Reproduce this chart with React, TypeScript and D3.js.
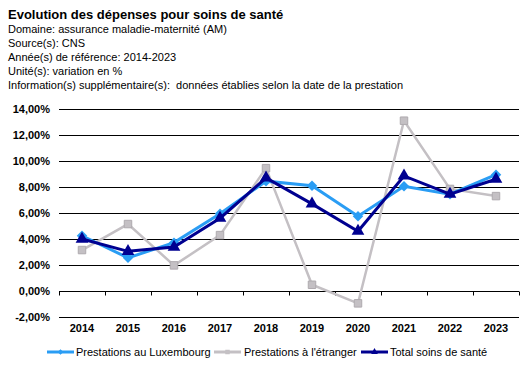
import React, { useEffect, useRef } from 'react';
import * as d3 from 'd3';

const years = ['2014', '2015', '2016', '2017', '2018', '2019', '2020', '2021', '2022', '2023'];
const luxembourg = [4.25, 2.55, 3.72, 5.95, 8.45, 8.1, 5.75, 8.05, 7.45, 8.95];
const etranger = [3.15, 5.15, 1.97, 4.3, 9.45, 0.48, -0.95, 13.1, 7.85, 7.3];
const total = [4.0, 3.05, 3.38, 5.6, 8.7, 6.7, 4.6, 8.85, 7.45, 8.6];
const yTicks = [-2, 0, 2, 4, 6, 8, 10, 12, 14];

const infoLines = [
  'Domaine: assurance maladie-maternité (AM)',
  'Source(s): CNS',
  'Année(s) de référence: 2014-2023',
  'Unité(s): variation en %',
  'Information(s) supplémentaire(s):  données établies selon la date de la prestation',
];

const series = [
  { name: 'Prestations au Luxembourg', values: luxembourg, color: '#2A9DF4', marker: 'diamond' },
  { name: "Prestations à l'étranger", values: etranger, color: '#C4C0C4', marker: 'square' },
  { name: 'Total soins de santé', values: total, color: '#000090', marker: 'triangle' },
];

const App = () => {
  const ref = useRef<SVGSVGElement>(null);

  useEffect(() => {
    const svg = d3.select(ref.current);
    svg.selectAll('*').remove();
    const font = 'Arial, "Liberation Sans", sans-serif';

    svg.append('text')
      .attr('x', 8).attr('y', 19)
      .attr('font-family', font).attr('font-size', 13).attr('font-weight', 'bold')
      .text('Evolution des dépenses pour soins de santé');

    infoLines.forEach((t, i) => {
      svg.append('text')
        .attr('x', 8).attr('y', 33 + i * 14.1)
        .attr('font-family', font).attr('font-size', 11)
        .style('white-space', 'pre')
        .text(t);
    });

    const left = 59, right = 519, top = 109, bottom = 317;
    const x = d3.scaleBand().domain(years).range([left, right]);
    const y = d3.scaleLinear().domain([-2, 14]).range([bottom, top]);

    // gridlines
    svg.append('g')
      .selectAll('line')
      .data(yTicks)
      .join('line')
      .attr('x1', left).attr('x2', right)
      .attr('y1', (d) => Math.round(y(d)) + 0.5).attr('y2', (d) => Math.round(y(d)) + 0.5)
      .attr('stroke', '#000').attr('stroke-width', 1);

    // y labels
    svg.append('g')
      .selectAll('text')
      .data(yTicks)
      .join('text')
      .attr('x', 50).attr('y', (d) => y(d) + 4)
      .attr('text-anchor', 'end')
      .attr('font-family', font).attr('font-size', 11).attr('font-weight', 'bold')
      .text((d) => d.toFixed(2).replace('.', ',') + '%');

    // x axis at 0 with ticks
    const y0 = Math.round(y(0)) + 0.5;
    const tickXs = years.map((yr) => x(yr) as number).concat([right]);
    svg.append('g')
      .selectAll('line')
      .data(tickXs)
      .join('line')
      .attr('x1', (d) => Math.round(d) + 0.5).attr('x2', (d) => Math.round(d) + 0.5)
      .attr('y1', y0).attr('y2', y0 + 4)
      .attr('stroke', '#000');

    // x labels
    svg.append('g')
      .selectAll('text')
      .data(years)
      .join('text')
      .attr('x', (d) => (x(d) as number) + x.bandwidth() / 2)
      .attr('y', 332)
      .attr('text-anchor', 'middle')
      .attr('font-family', font).attr('font-size', 11).attr('font-weight', 'bold')
      .text((d) => d);

    const cx = (i: number) => (x(years[i]) as number) + x.bandwidth() / 2;

    const markerPath = (type: string, size: number) => {
      if (type === 'diamond') return d3.symbol(d3.symbolDiamond2, size)();
      if (type === 'square') return d3.symbol(d3.symbolSquare, size)();
      return d3.symbol(d3.symbolTriangle, size)();
    };

    const drawOrder = [1, 0, 2];
    drawOrder.forEach((si) => {
      const s = series[si];
      const line = d3.line<number>().x((_, i) => cx(i)).y((d) => y(d));
      svg.append('path')
        .datum(s.values)
        .attr('fill', 'none')
        .attr('stroke', s.color)
        .attr('stroke-width', si === 1 ? 2.5 : 3)
        .attr('d', line);
      svg.append('g')
        .selectAll('path')
        .data(s.values)
        .join('path')
        .attr('transform', (d, i) => `translate(${cx(i)},${y(d)})`)
        .attr('d', markerPath(s.marker, s.marker === 'square' ? 56 : 70) as string)
        .attr('fill', s.color)
        .attr('stroke', s.marker === 'square' ? '#AFAAAF' : 'none');
    });

    // legend
    const legendPos = [
      { lx: 47, tx: 76 },
      { lx: 214, tx: 244 },
      { lx: 361, tx: 390 },
    ];
    series.forEach((s, i) => {
      const p = legendPos[i];
      const g = svg.append('g');
      g.append('line')
        .attr('x1', p.lx).attr('x2', p.lx + 27)
        .attr('y1', 352).attr('y2', 352)
        .attr('stroke', s.color).attr('stroke-width', 3);
      g.append('path')
        .attr('transform', `translate(${p.lx + 13.5},352)`)
        .attr('d', markerPath(s.marker, 20) as string)
        .attr('fill', s.color);
      g.append('text')
        .attr('x', p.tx).attr('y', 356)
        .attr('font-family', font).attr('font-size', 11)
        .text(s.name);
    });
  }, []);

  return (
    <svg
      ref={ref}
      width={528}
      height={367}
      style={{ position: 'absolute', left: 0, top: 0, background: '#fff' }}
    />
  );
};

export default App;
